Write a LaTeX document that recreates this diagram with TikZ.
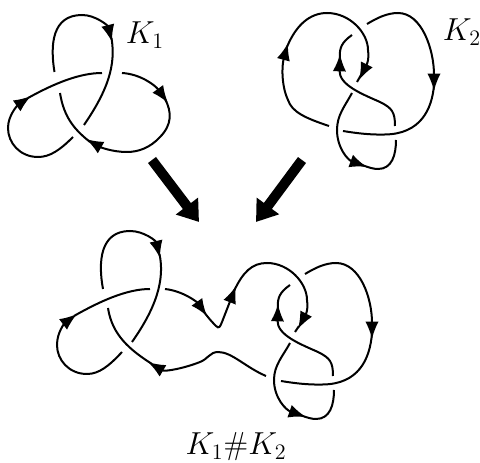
\documentclass[tikz,border=0pt]{standalone}
\usetikzlibrary{arrows.meta}
\tikzset{
  strand/.style={line width=1.5pt,line cap=butt},
  arrowed/.style={strand,-{Latex[length=13pt,width=10pt]}},
  bigarrow/.style={line width=7.5pt,-{Triangle[length=15pt,width=20pt]}},
  lab/.style={font=\LARGE,inner sep=0pt,scale=1.38}
}
\begin{document}
\begin{tikzpicture}[x=.75pt,y=-.75pt]
\useasboundingbox (0,0) rectangle (480,463);
% K1
\draw[arrowed] (54.5,72) .. controls (50,45) and (52,15) .. (82,15) .. controls (96,15) and (108,26) .. (112,42);
\draw[strand] (111.5,38) .. controls (116,65) and (108,90) .. (84,125);
\draw[arrowed] (73,137) .. controls (60,150) and (50,157) .. (38,157) .. controls (20,157) and (8,143) .. (8,128) .. controls (8,115) and (18,105) .. (31,96);
\draw[strand] (28,98) .. controls (55,83) and (80,73) .. (102,73);
\draw[arrowed] (122,73) .. controls (140,74) and (155,85) .. (168,103);
\draw[arrowed] (165,99) .. controls (172,112) and (172,125) .. (160,137) .. controls (150,148) and (138,152) .. (127,152) .. controls (112,152) and (100,147) .. (86,139);
\draw[strand] (90,142) .. controls (75,130) and (64,118) .. (60,93);
% K2
\draw[arrowed] (329,126) .. controls (305,118) and (292,112) .. (288,100) .. controls (281,85) and (282,65) .. (288,43);
\draw[arrowed] (287,47) .. controls (296,25) and (310,13) .. (327,13) .. controls (350,13) and (368,33) .. (368,50) .. controls (369,58) and (368,62) .. (359,80);
\draw[strand] (361,75) -- (357,82);
\draw[arrowed] (352,93) .. controls (345,106) and (337,115) .. (337,130) .. controls (337,148) and (348,160) .. (367,167);
\draw[strand] (362,165) .. controls (370,168) and (374,169) .. (378,169) .. controls (392,169) and (396,155) .. (396,140);
\draw[arrowed] (395,126) .. controls (395,112) and (392,108) .. (380,102) .. controls (362,94) and (339,85) .. (340,54);
\draw[strand] (340,58) .. controls (339,48) and (342,42) .. (352,35);
\draw[arrowed] (367,24) .. controls (377,18) and (387,13) .. (398,13) .. controls (422,13) and (434,50) .. (434,91);
\draw[strand] (434,85) .. controls (432,110) and (420,134) .. (385,134.5) .. controls (370,135) and (355,133) .. (343,131);
% K1 # K2
\draw[arrowed] (103,289) .. controls (98,262) and (100,231) .. (130,231) .. controls (144,231) and (156,241) .. (160,258);
\draw[strand] (159.5,254) .. controls (165,280) and (156,308) .. (132,342);
\draw[arrowed] (122,352) .. controls (109,366) and (99,374) .. (87,374) .. controls (69,374) and (57,360) .. (57,345) .. controls (57,332) and (65,323) .. (77,314);
\draw[strand] (74,316) .. controls (102,300) and (128,289) .. (150,289);
\draw[arrowed] (165,289) .. controls (183,291) and (197,302) .. (207,316);
\draw[strand] (204,312) .. controls (210,320) and (214,324) .. (216,326) .. controls (219,329) and (220,327) .. (222,322);
\draw[arrowed] (222,322) -- (236,286);
\draw[arrowed] (234,291) .. controls (243,272) and (252,263) .. (267,263) .. controls (289,263) and (307,283) .. (307,300) .. controls (308,308) and (307,312) .. (298,329);
\draw[strand] (299,326) -- (295,332);
\draw[arrowed] (290,343) .. controls (283,356) and (274,365) .. (274,380) .. controls (274,398) and (286,410) .. (306,417);
\draw[strand] (300,415) .. controls (308,418) and (312,419) .. (316,419) .. controls (330,419) and (334,405) .. (334,390);
\draw[arrowed] (333,376) .. controls (333,362) and (330,358) .. (318,352) .. controls (300,344) and (277,335) .. (278,304);
\draw[strand] (278,308) .. controls (277,298) and (280,292) .. (290,285);
\draw[arrowed] (305,274) .. controls (315,268) and (325,263) .. (336,263) .. controls (360,263) and (372,298) .. (372,339);
\draw[strand] (372,333) .. controls (370,360) and (358,384) .. (323,384.5) .. controls (308,385) and (293,383) .. (281,381);
\draw[arrowed] (266,376) .. controls (245,367) and (232,352) .. (218,352) .. controls (210,352) and (208,359) .. (200,362) .. controls (185,368) and (165,372) .. (148,362);
\draw[strand] (152,364) .. controls (130,350) and (112,335) .. (108,308);
% thick arrows
\coordinate (a1s) at (152,160);
\coordinate (a1e) at (199,222);
\coordinate (a2s) at (302,160);
\coordinate (a2e) at (256,222);
\draw[bigarrow] (a1s) -- (a1e);
\draw[bigarrow] (a2s) -- (a2e);
% labels
\node[lab] (k1) at (145,35) {$K_1$};
\node[lab] (k2) at (462,32) {$K_2$};
\node[lab] (k12) at (236,447) {$K_1\#K_2$};
\end{tikzpicture}
\end{document}
